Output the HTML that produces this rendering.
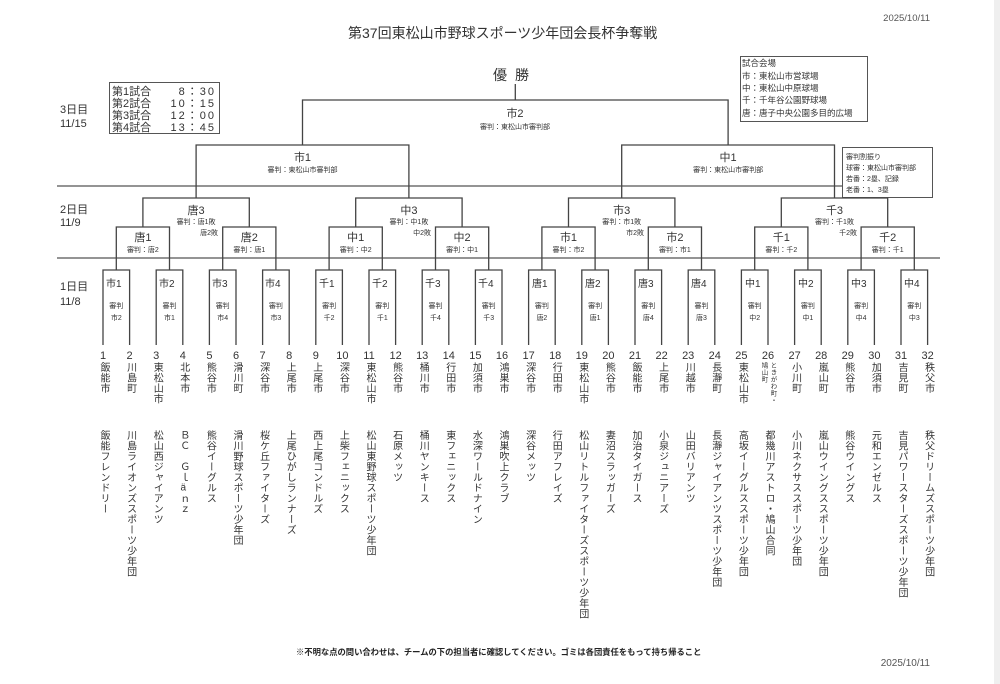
<!DOCTYPE html>
<html><head><meta charset="utf-8">
<style>
html,body{margin:0;padding:0;background:#fff;}
body{width:1000px;height:684px;position:relative;overflow:hidden;font-family:"Liberation Sans","Noto Sans CJK JP",sans-serif;color:#333;}
.v{position:absolute;writing-mode:vertical-rl;text-orientation:upright;font-size:10px;line-height:10px;width:10px;letter-spacing:0.5px;white-space:nowrap;}
.c{top:362px;}
.t{top:430px;}
.n{position:absolute;top:350px;font-size:11px;width:20px;text-align:center;line-height:12px;}
svg{position:absolute;left:0;top:0;}
</style></head><body>
<div style="position:absolute;right:0;top:0;width:6px;height:684px;background:#efefef"></div>
<svg width="1000" height="684" viewBox="0 0 1000 684" font-family="Liberation Sans, Noto Sans CJK JP, sans-serif" fill="#333">
<text x="348" y="38" font-size="14">第37回東松山市野球スポーツ少年団会長杯争奪戦</text>
<text x="930" y="21" font-size="9.5" text-anchor="end" fill="#555">2025/10/11</text>
<text x="515" y="80" font-size="14" text-anchor="middle" letter-spacing="8">優勝</text>
<text x="296" y="655" font-size="8.3" font-weight="bold" fill="#222">※不明な点の問い合わせは、チームの下の担当者に確認してください。ゴミは各団責任をもって持ち帰ること</text>
<text x="930" y="666" font-size="10" text-anchor="end" fill="#555">2025/10/11</text>
<!-- day labels -->
<g font-size="11">
<text x="60" y="113">3日目</text><text x="60" y="127">11/15</text>
<text x="60" y="213">2日目</text><text x="60" y="226">11/9</text>
<text x="60" y="290">1日目</text><text x="60" y="305">11/8</text>
</g>
<!-- schedule box -->
<rect x="109.5" y="82.5" width="110" height="51" fill="none" stroke="#555" stroke-width="1"/>
<g font-size="11">
<text x="112" y="95">第1試合</text><text x="216" y="95" text-anchor="end" letter-spacing="2">8：30</text>
<text x="112" y="107">第2試合</text><text x="216" y="107" text-anchor="end" letter-spacing="2">10：15</text>
<text x="112" y="119">第3試合</text><text x="216" y="119" text-anchor="end" letter-spacing="2">12：00</text>
<text x="112" y="131">第4試合</text><text x="216" y="131" text-anchor="end" letter-spacing="2">13：45</text>
</g>
<!-- venue box -->
<rect x="740.5" y="56.5" width="127" height="65" fill="none" stroke="#555" stroke-width="1"/>
<g font-size="8.5">
<text x="742" y="66">試合会場</text>
<text x="742" y="79">市：東松山市営球場</text>
<text x="742" y="91">中：東松山中原球場</text>
<text x="742" y="103">千：千年谷公園野球場</text>
<text x="742" y="116">唐：唐子中央公園多目的広場</text>
</g>
<!-- referee box -->
<rect x="842.5" y="147.5" width="90" height="50" fill="none" stroke="#555" stroke-width="1"/>
<g font-size="7">
<text x="846" y="159">審判割振り</text>
<text x="846" y="170">球審：東松山市審判部</text>
<text x="846" y="181">若番：2塁、記録</text>
<text x="846" y="192">老番：1、3塁</text>
</g>
<!-- separator lines -->
<path d="M57 186 H842 M57 258 H940" stroke="#555" stroke-width="1.2" fill="none"/>
<!-- bracket -->
<g stroke="#444" stroke-width="1.3" fill="none">
<path d="M515.3 84 V100"/>
<path d="M302.5 145 V100 H728.1 V145"/>
<path d="M196.1 198 V145 H408.9 V198 M621.7 198 V145 H834.5 V198"/>
<path d="M142.9 227 V198 H249.3 V227 M355.7 227 V198 H462.1 V227 M568.5 227 V198 H674.9 V227 M781.3 227 V198 H887.7 V227"/>
<path d="M116.3 270 V227 H169.5 V270 M222.7 270 V227 H275.9 V270 M329.1 270 V227 H382.3 V270 M435.5 270 V227 H488.7 V270 M541.9 270 V227 H595.1 V270 M648.3 270 V227 H701.5 V270 M754.7 270 V227 H807.9 V270 M861.1 270 V227 H914.3 V270"/>
<path d="M103 345 V270 H129.6 V345 M156.2 345 V270 H182.8 V345 M209.4 345 V270 H236 V345 M262.6 345 V270 H289.2 V345 M315.8 345 V270 H342.4 V345 M369 345 V270 H395.6 V345 M422.2 345 V270 H448.8 V345 M475.4 345 V270 H502 V345 M528.6 345 V270 H555.2 V345 M581.8 345 V270 H608.4 V345 M635 345 V270 H661.6 V345 M688.2 345 V270 H714.8 V345 M741.4 345 V270 H768 V345 M794.6 345 V270 H821.2 V345 M847.8 345 V270 H874.4 V345 M901 345 V270 H927.6 V345"/>
</g>
<!-- final / R4 labels -->
<g text-anchor="middle">
<text x="515" y="117" font-size="11">市2</text><text x="515" y="129" font-size="7">審判：東松山市審判部</text>
<text x="302.5" y="161" font-size="11">市1</text><text x="302.5" y="172" font-size="7">審判：東松山市審判部</text>
<text x="728.1" y="161" font-size="11">中1</text><text x="728.1" y="172" font-size="7">審判：東松山市審判部</text>
<!-- R3 -->
<text x="196.1" y="214" font-size="11">唐3</text><text x="196.1" y="224" font-size="7">審判：唐1敗</text>
<text x="408.9" y="214" font-size="11">中3</text><text x="408.9" y="224" font-size="7">審判：中1敗</text>
<text x="621.7" y="214" font-size="11">市3</text><text x="621.7" y="224" font-size="7">審判：市1敗</text>
<text x="834.5" y="214" font-size="11">千3</text><text x="834.5" y="224" font-size="7">審判：千1敗</text>
</g>
<g text-anchor="end" font-size="7">
<text x="218" y="235">唐2敗</text><text x="431" y="235">中2敗</text><text x="644" y="235">市2敗</text><text x="857" y="235">千2敗</text>
</g>
<!-- R2 -->
<g text-anchor="middle">
<text x="142.9" y="241" font-size="11">唐1</text><text x="142.9" y="252" font-size="7">審判：唐2</text>
<text x="249.3" y="241" font-size="11">唐2</text><text x="249.3" y="252" font-size="7">審判：唐1</text>
<text x="355.7" y="241" font-size="11">中1</text><text x="355.7" y="252" font-size="7">審判：中2</text>
<text x="462.1" y="241" font-size="11">中2</text><text x="462.1" y="252" font-size="7">審判：中1</text>
<text x="568.5" y="241" font-size="11">市1</text><text x="568.5" y="252" font-size="7">審判：市2</text>
<text x="674.9" y="241" font-size="11">市2</text><text x="674.9" y="252" font-size="7">審判：市1</text>
<text x="781.3" y="241" font-size="11">千1</text><text x="781.3" y="252" font-size="7">審判：千2</text>
<text x="887.7" y="241" font-size="11">千2</text><text x="887.7" y="252" font-size="7">審判：千1</text>
</g>
<!-- R1 labels -->
<g font-size="10">
<text x="106" y="287">市1</text><text x="159" y="287">市2</text><text x="212" y="287">市3</text><text x="265" y="287">市4</text>
<text x="319" y="287">千1</text><text x="372" y="287">千2</text><text x="425" y="287">千3</text><text x="478" y="287">千4</text>
<text x="532" y="287">唐1</text><text x="585" y="287">唐2</text><text x="638" y="287">唐3</text><text x="691" y="287">唐4</text>
<text x="745" y="287">中1</text><text x="798" y="287">中2</text><text x="851" y="287">中3</text><text x="904" y="287">中4</text>
</g>
<g font-size="7" text-anchor="middle">
<text x="116.3" y="308">審判</text><text x="116.3" y="320">市2</text>
<text x="169.5" y="308">審判</text><text x="169.5" y="320">市1</text>
<text x="222.7" y="308">審判</text><text x="222.7" y="320">市4</text>
<text x="275.9" y="308">審判</text><text x="275.9" y="320">市3</text>
<text x="329.1" y="308">審判</text><text x="329.1" y="320">千2</text>
<text x="382.3" y="308">審判</text><text x="382.3" y="320">千1</text>
<text x="435.5" y="308">審判</text><text x="435.5" y="320">千4</text>
<text x="488.7" y="308">審判</text><text x="488.7" y="320">千3</text>
<text x="541.9" y="308">審判</text><text x="541.9" y="320">唐2</text>
<text x="595.1" y="308">審判</text><text x="595.1" y="320">唐1</text>
<text x="648.3" y="308">審判</text><text x="648.3" y="320">唐4</text>
<text x="701.5" y="308">審判</text><text x="701.5" y="320">唐3</text>
<text x="754.7" y="308">審判</text><text x="754.7" y="320">中2</text>
<text x="807.9" y="308">審判</text><text x="807.9" y="320">中1</text>
<text x="861.1" y="308">審判</text><text x="861.1" y="320">中4</text>
<text x="914.3" y="308">審判</text><text x="914.3" y="320">中3</text>
</g>
</svg>

<!-- numbers -->
<div class="n" style="left:93px">1</div><div class="n" style="left:119.6px">2</div><div class="n" style="left:146.2px">3</div><div class="n" style="left:172.8px">4</div>
<div class="n" style="left:199.4px">5</div><div class="n" style="left:226px">6</div><div class="n" style="left:252.6px">7</div><div class="n" style="left:279.2px">8</div>
<div class="n" style="left:305.8px">9</div><div class="n" style="left:332.4px">10</div><div class="n" style="left:359px">11</div><div class="n" style="left:385.6px">12</div>
<div class="n" style="left:412.2px">13</div><div class="n" style="left:438.8px">14</div><div class="n" style="left:465.4px">15</div><div class="n" style="left:492px">16</div>
<div class="n" style="left:518.6px">17</div><div class="n" style="left:545.2px">18</div><div class="n" style="left:571.8px">19</div><div class="n" style="left:598.4px">20</div>
<div class="n" style="left:625px">21</div><div class="n" style="left:651.6px">22</div><div class="n" style="left:678.2px">23</div><div class="n" style="left:704.8px">24</div>
<div class="n" style="left:731.4px">25</div><div class="n" style="left:758px">26</div><div class="n" style="left:784.6px">27</div><div class="n" style="left:811.2px">28</div>
<div class="n" style="left:837.8px">29</div><div class="n" style="left:864.4px">30</div><div class="n" style="left:891px">31</div><div class="n" style="left:917.6px">32</div>

<!-- cities -->
<div class="v c" style="left:98px">飯能市</div>
<div class="v c" style="left:124.6px">川島町</div>
<div class="v c" style="left:151.2px">東松山市</div>
<div class="v c" style="left:177.8px">北本市</div>
<div class="v c" style="left:204.4px">熊谷市</div>
<div class="v c" style="left:231px">滑川町</div>
<div class="v c" style="left:257.6px">深谷市</div>
<div class="v c" style="left:284.2px">上尾市</div>
<div class="v c" style="left:310.8px">上尾市</div>
<div class="v c" style="left:337.4px">深谷市</div>
<div class="v c" style="left:364px">東松山市</div>
<div class="v c" style="left:390.6px">熊谷市</div>
<div class="v c" style="left:417.2px">桶川市</div>
<div class="v c" style="left:443.8px">行田市</div>
<div class="v c" style="left:470.4px">加須市</div>
<div class="v c" style="left:497px">鴻巣市</div>
<div class="v c" style="left:523.6px">深谷市</div>
<div class="v c" style="left:550.2px">行田市</div>
<div class="v c" style="left:576.8px">東松山市</div>
<div class="v c" style="left:603.4px">熊谷市</div>
<div class="v c" style="left:630px">飯能市</div>
<div class="v c" style="left:656.6px">上尾市</div>
<div class="v c" style="left:683.2px">川越市</div>
<div class="v c" style="left:709.8px">長瀞町</div>
<div class="v c" style="left:736.4px">東松山市</div>
<div class="v c" style="left:769px;font-size:6.5px;line-height:7px;width:7px;letter-spacing:0.5px">ときがわ町・</div>
<div class="v c" style="left:760px;font-size:6.5px;line-height:7px;width:7px;letter-spacing:0.5px">鳩山町</div>
<div class="v c" style="left:789.6px">小川町</div>
<div class="v c" style="left:816.2px">嵐山町</div>
<div class="v c" style="left:842.8px">熊谷市</div>
<div class="v c" style="left:869.4px">加須市</div>
<div class="v c" style="left:896px">吉見町</div>
<div class="v c" style="left:922.6px">秩父市</div>

<!-- team names -->
<div class="v t" style="left:98px">飯能フレンドリー</div>
<div class="v t" style="left:124.6px">川島ライオンズスポーツ少年団</div>
<div class="v t" style="left:151.2px">松山西ジャイアンツ</div>
<div class="v t" style="left:177.8px">ＢＣ　Ｇｌäｎｚ</div>
<div class="v t" style="left:204.4px">熊谷イーグルス</div>
<div class="v t" style="left:231px">滑川野球スポーツ少年団</div>
<div class="v t" style="left:257.6px">桜ケ丘ファイターズ</div>
<div class="v t" style="left:284.2px">上尾ひがしランナーズ</div>
<div class="v t" style="left:310.8px">西上尾コンドルズ</div>
<div class="v t" style="left:337.4px">上柴フェニックス</div>
<div class="v t" style="left:364px">松山東野球スポーツ少年団</div>
<div class="v t" style="left:390.6px">石原メッツ</div>
<div class="v t" style="left:417.2px">桶川ヤンキース</div>
<div class="v t" style="left:443.8px">東フェニックス</div>
<div class="v t" style="left:470.4px">水深ワールドナイン</div>
<div class="v t" style="left:497px">鴻巣吹上クラブ</div>
<div class="v t" style="left:523.6px">深谷メッツ</div>
<div class="v t" style="left:550.2px">行田アフレイズ</div>
<div class="v t" style="left:576.8px">松山リトルファイターズスポーツ少年団</div>
<div class="v t" style="left:603.4px">妻沼スラッガーズ</div>
<div class="v t" style="left:630px">加治タイガース</div>
<div class="v t" style="left:656.6px">小泉ジュニアーズ</div>
<div class="v t" style="left:683.2px">山田バリアンツ</div>
<div class="v t" style="left:709.8px">長瀞ジャイアンツスポーツ少年団</div>
<div class="v t" style="left:736.4px">高坂イーグルススポーツ少年団</div>
<div class="v t" style="left:763px">都幾川アストロ・鳩山合同</div>
<div class="v t" style="left:789.6px">小川ネクサススポーツ少年団</div>
<div class="v t" style="left:816.2px">嵐山ウイングススポーツ少年団</div>
<div class="v t" style="left:842.8px">熊谷ウイングス</div>
<div class="v t" style="left:869.4px">元和エンゼルス</div>
<div class="v t" style="left:896px">吉見パワースターズスポーツ少年団</div>
<div class="v t" style="left:922.6px">秩父ドリームズスポーツ少年団</div>
</body></html>
